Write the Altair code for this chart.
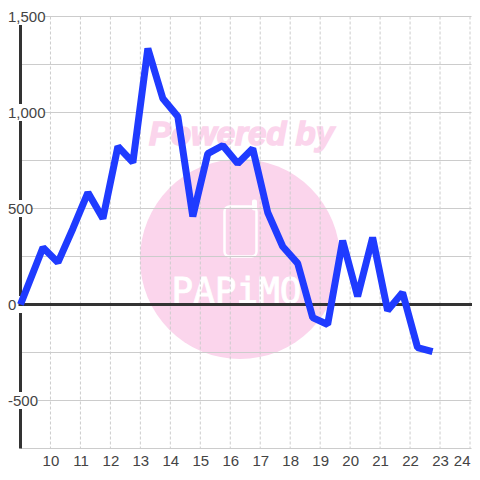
import altair as alt
import pandas as pd

hours = [9.0, 9.75, 10.25, 10.75, 11.25, 11.75, 12.25, 12.75, 13.25, 13.75, 14.25, 14.75, 15.25, 15.75,
         16.25, 16.75, 17.25, 17.75, 18.25, 18.75, 19.25, 19.75, 20.25, 20.75, 21.25, 21.75, 22.25, 22.75]
values = [0, 297, 219, 396, 583, 448, 823, 740, 1333, 1073, 979, 458, 786, 828,
          734, 812, 479, 302, 214, -68, -104, 333, 42, 349, -31, 62, -224, -245]
x_ticks = list(range(10, 25))
y_grid = [-750, -500, -250, 0, 250, 500, 750, 1000, 1250, 1500]
wide_labels = [1000, 1500]
narrow_labels = [0, 500]
negative_labels = [-500]

FONT = "Liberation Sans"
PINK = "#fbd5ec"
DARK = "#333333"

xs = alt.Scale(domain=[9, 24.05], nice=False, zero=False)
ys = alt.Scale(domain=[-750, 1500], nice=False, zero=False)

df = pd.DataFrame({"h": hours, "v": values})
one = pd.DataFrame({"a": [0]})
xdf = pd.DataFrame({"h": x_ticks})
ydf = pd.DataFrame({"v": y_grid})


def fmt(v):
    return f"{v:,}"


def ldf(vals):
    return pd.DataFrame({"v": vals, "t": [fmt(v) for v in vals]})


circle = alt.Chart(one).mark_point(filled=True, shape="circle", opacity=1, color=PINK).encode(
    x=alt.value(219.5), y=alt.value(242.5), size=alt.value(40000))
powered = alt.Chart(one).mark_text(
    text="Powered by", font=FONT, fontSize=33, fontWeight="bold", fontStyle="italic",
    color=PINK, stroke=PINK, strokeWidth=1.5, align="center", baseline="alphabetic"
).encode(x=alt.value(221), y=alt.value(128))
phone = alt.Chart(one).mark_rect(fillOpacity=0, stroke="white", strokeWidth=2.5, cornerRadius=5).encode(
    x=alt.value(204), x2=alt.value(236), y=alt.value(190), y2=alt.value(240))
antenna = alt.Chart(one).mark_rect(color="white", cornerRadius=2).encode(
    x=alt.value(231.5), x2=alt.value(236.5), y=alt.value(183), y2=alt.value(194))
papimo = alt.Chart(one).mark_text(
    text="PAPiMO", font="DejaVu Sans Mono", fontSize=36, color="white", stroke="white", strokeWidth=0.8,
    align="left", baseline="alphabetic"
).encode(x=alt.value(151), y=alt.value(286))

base_x = alt.X("h:Q", scale=xs, title=None, axis=alt.Axis(
    values=x_ticks, grid=False, domain=False, ticks=False, labelFont=FONT, labelFontSize=15,
    labelColor="#444444", labelPadding=5, labelFlush=False, labelOverlap=False, format="d",
    labelAlign={"condition": {"test": "datum.value == 24", "value": "right"}, "value": "center"}))
base_y = alt.Y("v:Q", scale=ys, title=None, axis=None)

vgrid = alt.Chart(xdf).mark_rule(color="#cccccc", strokeWidth=1, strokeDash=[3, 2]).encode(x=base_x)
hgrid = alt.Chart(ydf).mark_rule(color="#cccccc", strokeWidth=1).encode(y=base_y)
yaxis = alt.Chart(one).mark_rule(color=DARK, strokeWidth=3).encode(x=alt.value(0))


def knockout(vals, left, right):
    return alt.Chart(ldf(vals)).mark_rule(color="white", strokeWidth=17).encode(
        y=base_y, x=alt.value(left), x2=alt.value(right))


def labels(vals, left):
    return alt.Chart(ldf(vals)).mark_text(
        font=FONT, fontSize=15, color="#444444", align="left", baseline="middle"
    ).encode(y=base_y, x=alt.value(left), text="t:N")


zero = alt.Chart(pd.DataFrame({"v": [0]})).mark_rule(color=DARK, strokeWidth=3).encode(
    y=base_y, x=alt.value(-2), x2=alt.value(451.5))
line = alt.Chart(df).mark_line(color="#1f3bff", strokeWidth=7, strokeJoin="bevel", clip=False).encode(
    x=base_x, y=base_y, order="h:Q")

chart = alt.layer(
    circle, powered, phone, antenna, papimo, vgrid, hgrid, yaxis,
    knockout(wide_labels, -14, 23.5), knockout(narrow_labels, -14, 10.5),
    knockout(negative_labels, -14, 17.5),
    zero, labels(wide_labels, -12.5), labels(narrow_labels, -12.5),
    labels(negative_labels, -12.5), line
).properties(
    width=451, height=432,
    autosize=alt.AutoSizeParams(type="none"),
    padding={"left": 12.5, "top": 8.5, "right": 0, "bottom": 23.5},
).configure_view(stroke=None)

chart.save("out.html", embed_options={"renderer": "svg", "actions": False})
